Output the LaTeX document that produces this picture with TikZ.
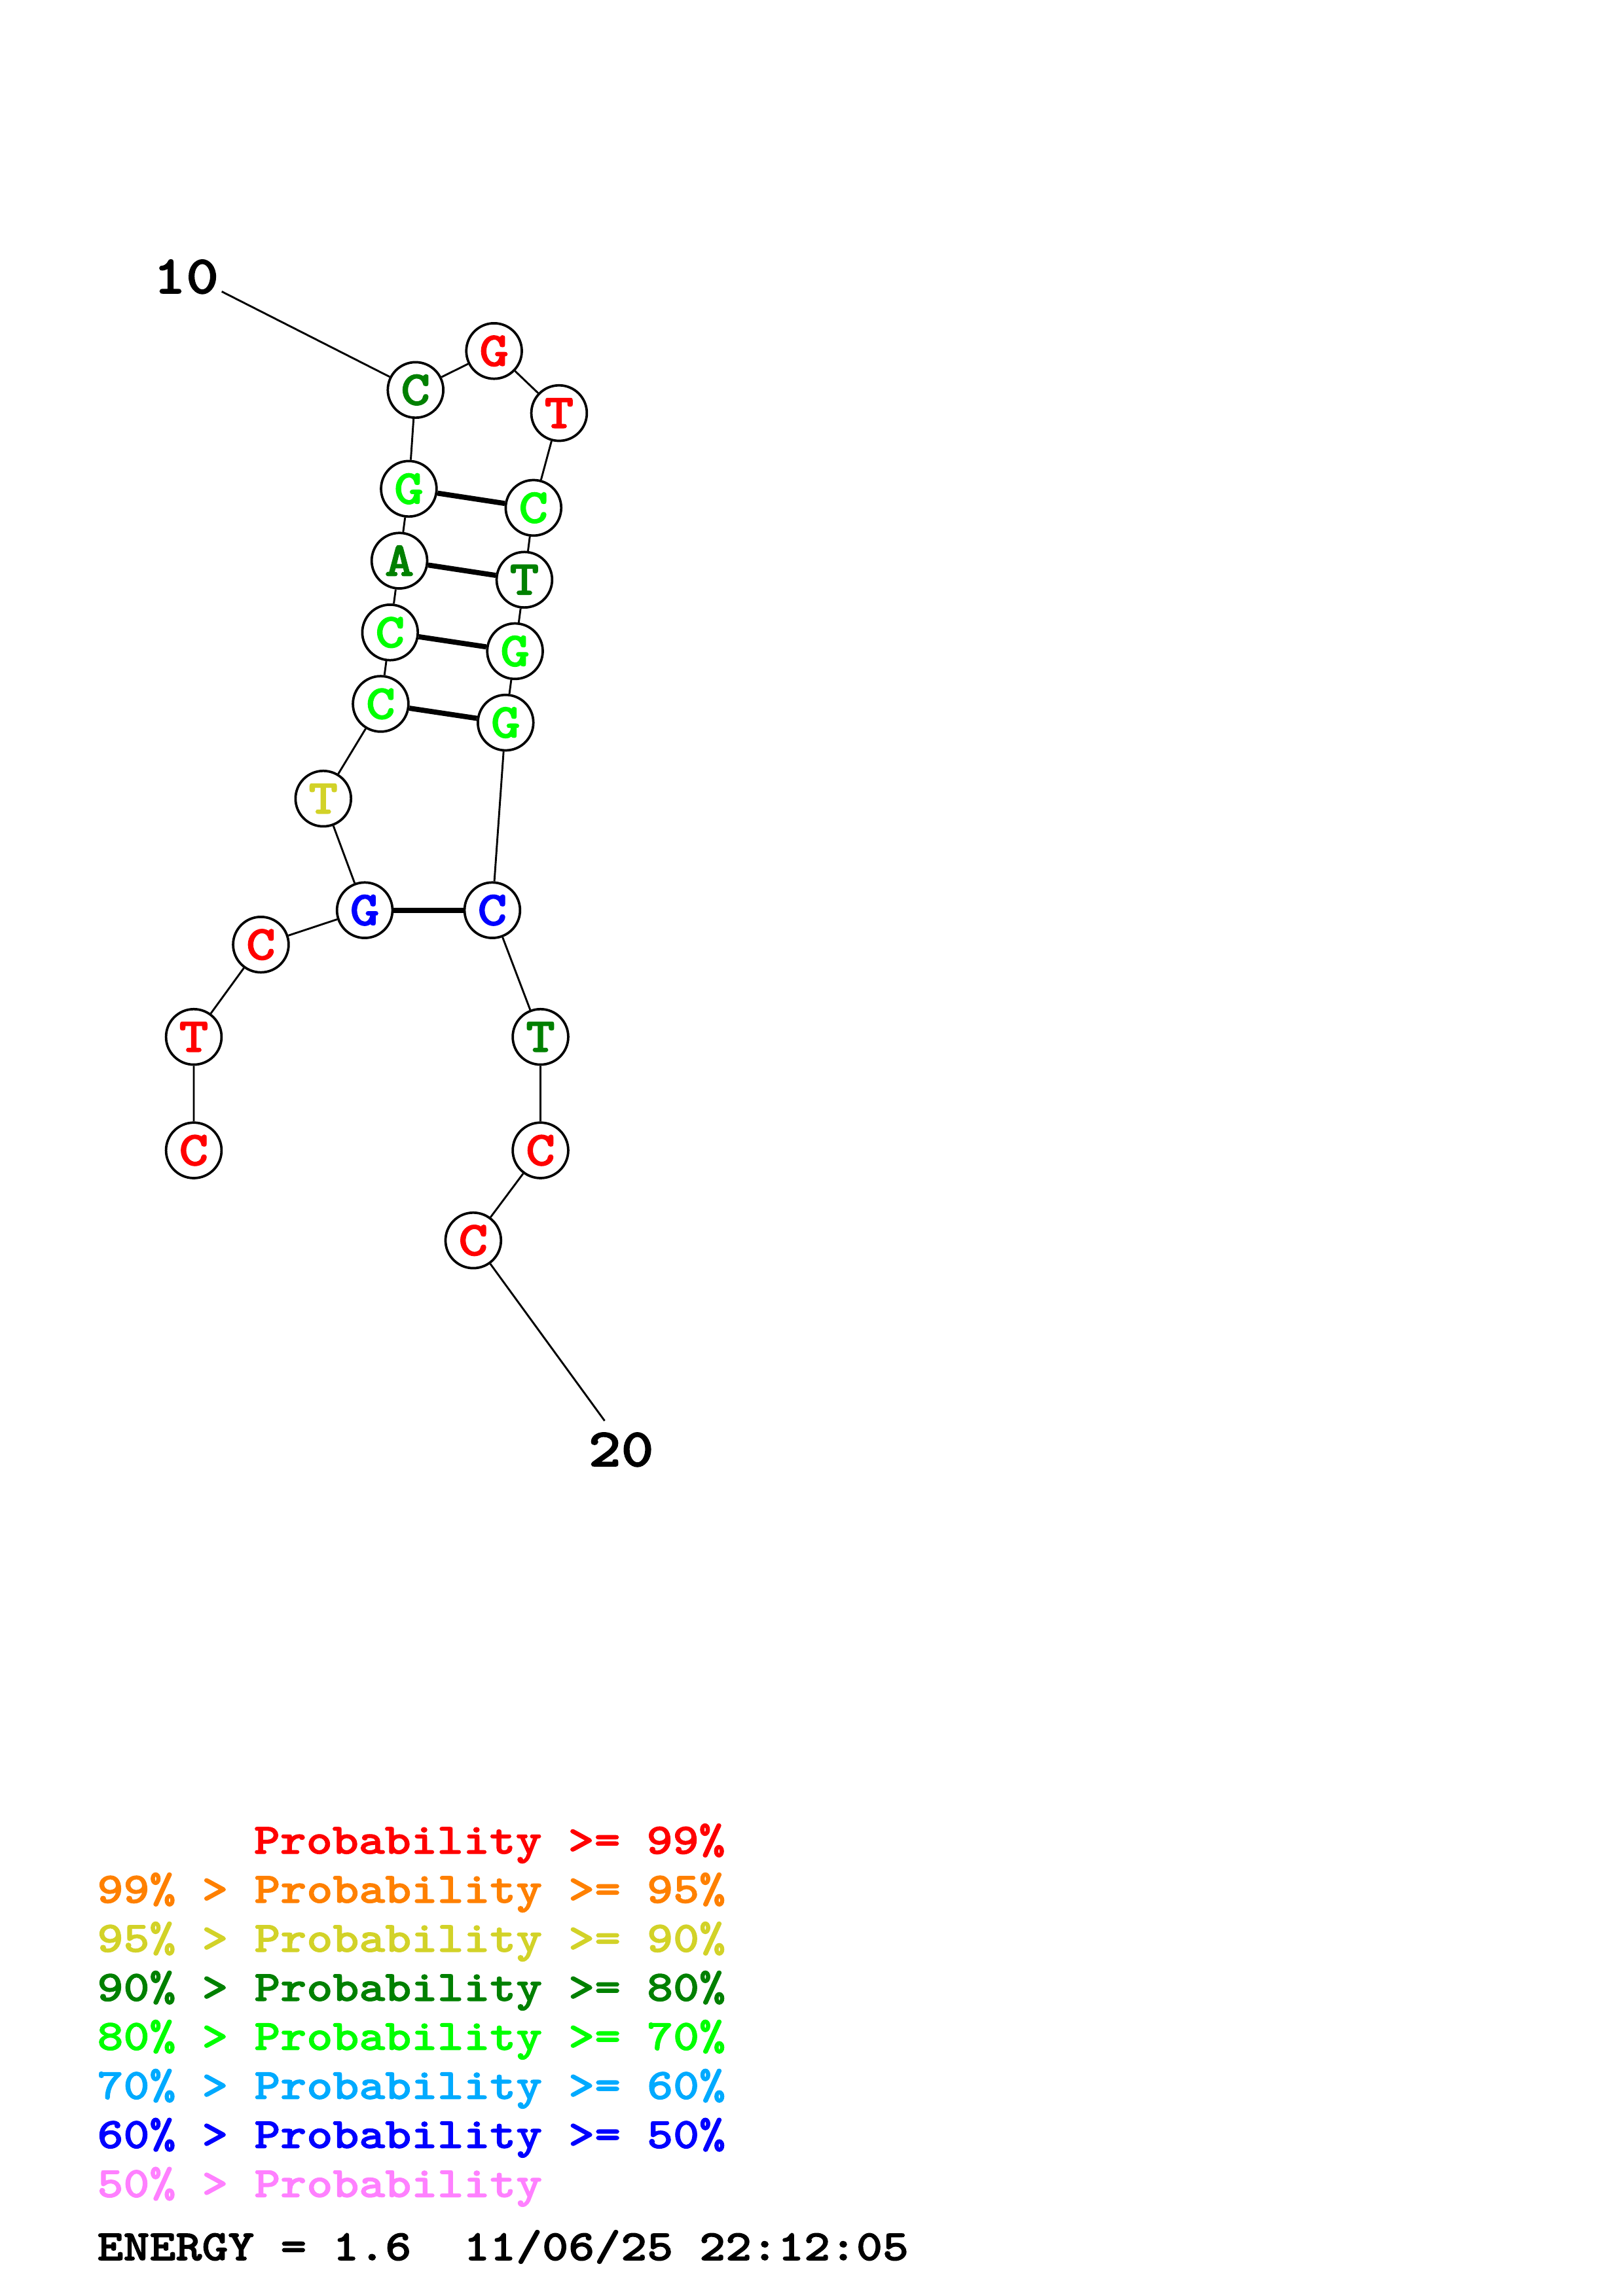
\documentclass[tikz,border=0pt]{standalone}
\usepackage{fontspec}
\usepackage{tikz}
\newfontfamily\seqfont{lmmonolt10-bold.otf}[FakeStretch=1.15, FakeBold=1.6]
\definecolor{probred}{RGB}{255,0,0}
\definecolor{proborange}{RGB}{255,128,0}
\definecolor{probyellow}{RGB}{210,210,40}
\definecolor{probdkgreen}{RGB}{0,128,0}
\definecolor{probgreen}{RGB}{0,255,0}
\definecolor{probcyan}{RGB}{0,170,255}
\definecolor{probblue}{RGB}{0,0,255}
\definecolor{probpink}{RGB}{255,128,255}

\begin{document}
\begin{tikzpicture}[x=0.019cm, y=-0.019cm,
  base/.style={circle, draw, line width=0.9pt, fill=white, minimum size=0.72cm, inner sep=0pt, font=\seqfont\fontsize{18}{18}\selectfont},
  endlabel/.style={inner sep=0pt, font=\seqfont\fontsize{20}{20}\selectfont},
  legend/.style={anchor=base west, inner sep=0pt, font=\seqfont\fontsize{16}{16}\selectfont},
  backbone/.style={line width=0.7pt},
  pairline/.style={line width=1.9pt}]
        \useasboundingbox (0,0) rectangle (1108,1568);
        \node[base, text=probred] (n1) at (132.3,785.6) {C};
        \node[base, text=probred] (n2) at (132.3,708.1) {T};
        \node[base, text=probred] (n3) at (178.1,645.1) {C};
        \node[base, text=probblue] (n4) at (249.0,621.6) {G};
        \node[base, text=probyellow] (n5) at (220.7,545.4) {T};
        \node[base, text=probgreen] (n6) at (259.9,480.7) {C};
        \node[base, text=probgreen] (n7) at (266.3,431.9) {C};
        \node[base, text=probdkgreen] (n8) at (272.7,382.9) {A};
        \node[base, text=probgreen] (n9) at (279.1,333.8) {G};
        \node[base, text=probdkgreen] (n10) at (283.7,266.3) {C};
        \node[base, text=probred] (n11) at (337.3,239.7) {G};
        \node[base, text=probred] (n12) at (381.7,282.1) {T};
        \node[base, text=probgreen] (n13) at (364.2,346.8) {C};
        \node[base, text=probdkgreen] (n14) at (358.0,395.9) {T};
        \node[base, text=probgreen] (n15) at (351.6,444.7) {G};
        \node[base, text=probgreen] (n16) at (345.2,493.5) {G};
        \node[base, text=probblue] (n17) at (336.1,621.6) {C};
        \node[base, text=probdkgreen] (n18) at (369.0,708.1) {T};
        \node[base, text=probred] (n19) at (369.0,785.6) {C};
        \node[base, text=probred] (n20) at (323.1,847.1) {C};
        \node[endlabel] (lab10) at (127,189) {10};
        \node[endlabel] (lab20) at (424,990) {20};
        \coordinate (tail10) at (151.4,199.1);
        \coordinate (tail20) at (412.8,970.3);
        \draw[backbone] (n1) -- (n2) -- (n3) -- (n4) -- (n5) -- (n6) -- (n7) -- (n8) -- (n9) -- (n10) -- (n11) -- (n12) -- (n13) -- (n14) -- (n15) -- (n16) -- (n17) -- (n18) -- (n19) -- (n20);
        \draw[backbone] (tail10) -- (n10);
        \draw[backbone] (n20) -- (tail20);
        \draw[pairline] (n9) -- (n13);
        \draw[pairline] (n8) -- (n14);
        \draw[pairline] (n7) -- (n15);
        \draw[pairline] (n6) -- (n16);
        \draw[pairline] (n4) -- (n17);
        \node[legend, text=probred] (leg1) at (173,1265.9) {Probability >= 99\%};
        \node[legend, text=proborange] (leg2) at (66,1299.4) {99\% > Probability >= 95\%};
        \node[legend, text=probyellow] (leg3) at (66,1332.9) {95\% > Probability >= 90\%};
        \node[legend, text=probdkgreen] (leg4) at (66,1366.4) {90\% > Probability >= 80\%};
        \node[legend, text=probgreen] (leg5) at (66,1399.9) {80\% > Probability >= 70\%};
        \node[legend, text=probcyan] (leg6) at (66,1433.4) {70\% > Probability >= 60\%};
        \node[legend, text=probblue] (leg7) at (66,1466.9) {60\% > Probability >= 50\%};
        \node[legend, text=probpink] (leg8) at (66,1500.4) {50\% > Probability};
        \node[legend] (energy) at (66,1543.5) {ENERGY = 1.6~~11/06/25 22:12:05};
      \end{tikzpicture}
\end{document}
